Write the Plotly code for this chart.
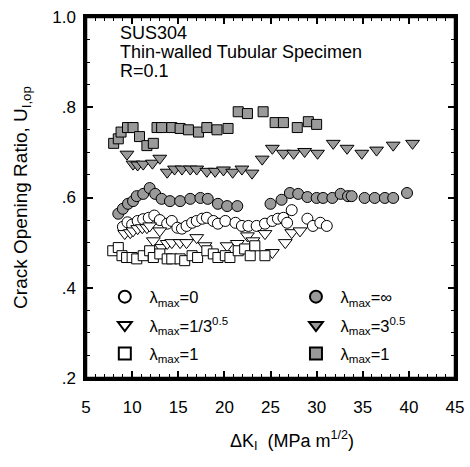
import plotly.graph_objects as go

# lambda_max = 0 (open circles)
k_circle_open = [9.0, 9.5, 10.0, 10.6, 11.2, 11.8, 12.4, 13.0, 13.8, 14.3, 14.9, 15.4, 15.9, 16.5, 17.0, 17.6, 18.1, 18.8, 19.3, 20.1, 21.2, 21.9, 22.6, 23.5, 24.4, 25.2, 25.8, 26.4, 26.8, 27.3, 29.0, 29.6, 30.4, 31.1]
u_circle_open = [0.535, 0.545, 0.540, 0.548, 0.552, 0.555, 0.560, 0.550, 0.542, 0.548, 0.533, 0.531, 0.537, 0.544, 0.548, 0.553, 0.555, 0.548, 0.542, 0.548, 0.544, 0.537, 0.537, 0.537, 0.542, 0.548, 0.553, 0.555, 0.544, 0.572, 0.553, 0.537, 0.544, 0.537]

# lambda_max = 1/3^0.5 (open down-triangles)
k_tri_open = [9.2, 9.8, 10.1, 10.6, 11.1, 11.6, 11.9, 12.3, 13.0, 13.2, 13.8, 14.3, 15.2, 15.9, 17.0, 17.9, 20.3, 21.4, 22.5, 23.1, 24.4, 25.2, 26.6, 27.3, 28.2]
u_tri_open = [0.520, 0.522, 0.526, 0.531, 0.533, 0.533, 0.537, 0.504, 0.526, 0.489, 0.498, 0.500, 0.500, 0.500, 0.511, 0.493, 0.493, 0.498, 0.515, 0.504, 0.520, 0.478, 0.500, 0.522, 0.526]

# lambda_max = 1 (open squares)
k_sq_open = [7.9, 8.5, 8.9, 9.4, 10.0, 10.5, 11.2, 11.9, 12.3, 13.0, 13.8, 14.3, 15.2, 15.7, 16.5, 17.1, 18.1, 18.8, 19.3, 20.1, 20.6, 21.5, 22.2, 22.8, 23.3, 24.4]
u_sq_open = [0.482, 0.489, 0.471, 0.467, 0.467, 0.464, 0.471, 0.482, 0.467, 0.475, 0.464, 0.464, 0.464, 0.460, 0.471, 0.467, 0.482, 0.475, 0.467, 0.471, 0.467, 0.482, 0.486, 0.471, 0.493, 0.471]

# lambda_max = infinity (hatched circles)
k_circle_fill = [8.5, 9.0, 9.55, 10.1, 10.5, 11.2, 11.9, 12.5, 13.2, 14.1, 15.2, 16.3, 17.4, 18.2, 19.3, 20.3, 21.4, 25.0, 26.2, 27.1, 28.0, 29.0, 30.0, 30.7, 31.7, 32.6, 33.4, 33.8, 35.2, 36.3, 37.4, 38.3, 39.8]
u_circle_fill = [0.564, 0.575, 0.586, 0.592, 0.603, 0.608, 0.621, 0.608, 0.597, 0.592, 0.592, 0.597, 0.599, 0.597, 0.586, 0.581, 0.581, 0.586, 0.595, 0.610, 0.608, 0.601, 0.599, 0.599, 0.599, 0.608, 0.603, 0.603, 0.599, 0.599, 0.599, 0.599, 0.610]

# lambda_max = 3^0.5 (hatched down-triangles)
k_tri_fill = [9.44, 10.1, 10.6, 11.2, 12.2, 13.0, 13.8, 14.6, 15.4, 16.3, 17.0, 18.1, 19.0, 19.9, 20.9, 21.9, 23.0, 24.1, 25.2, 26.4, 27.5, 28.7, 30.1, 31.8, 33.3, 34.9, 36.5, 38.3, 40.4]
u_tri_fill = [0.696, 0.674, 0.672, 0.674, 0.676, 0.687, 0.656, 0.663, 0.663, 0.663, 0.663, 0.658, 0.658, 0.661, 0.656, 0.663, 0.654, 0.685, 0.709, 0.698, 0.698, 0.702, 0.698, 0.720, 0.709, 0.698, 0.705, 0.716, 0.720]

# lambda_max = 1 (hatched squares)
k_sq_fill = [8.0, 8.5, 8.8, 9.5, 10.1, 10.8, 11.6, 12.3, 12.7, 13.2, 14.3, 15.2, 16.1, 17.2, 18.1, 19.2, 20.4, 21.5, 22.5, 24.2, 25.5, 26.4, 27.9, 29.1, 30.0]
u_sq_fill = [0.720, 0.730, 0.745, 0.755, 0.755, 0.735, 0.715, 0.720, 0.755, 0.755, 0.755, 0.753, 0.750, 0.745, 0.755, 0.750, 0.753, 0.790, 0.786, 0.790, 0.766, 0.766, 0.755, 0.768, 0.762]

y_tick_vals = [0.2, 0.4, 0.6, 0.8, 1.0]
y_tick_text = [".2", ".4", ".6", ".8", "1.0"]
x_tick_vals = [5, 10, 15, 20, 25, 30, 35, 40, 45]
header_lines = ["SUS304", "Thin-walled Tubular Specimen", "R=0.1"]

FONT = "Liberation Sans, Arial, sans-serif"
HATCH = "#9a9a9a"

series = [
    (k_circle_open, u_circle_open, "circle", "white", 11, " λ<sub>max</sub>=0", "legend"),
    (k_tri_open, u_tri_open, "triangle-down", "white", 12, " λ<sub>max</sub>=1/3<sup>0.5</sup>", "legend"),
    (k_sq_open, u_sq_open, "square", "white", 10, " λ<sub>max</sub>=1", "legend"),
    (k_circle_fill, u_circle_fill, "circle", HATCH, 11, " λ<sub>max</sub>=∞", "legend2"),
    (k_tri_fill, u_tri_fill, "triangle-down", HATCH, 12, " λ<sub>max</sub>=3<sup>0.5</sup>", "legend2"),
    (k_sq_fill, u_sq_fill, "square", HATCH, 10, " λ<sub>max</sub>=1", "legend2"),
]

fig = go.Figure()
for i, (xs, ys, sym, fill, size, name, leg) in enumerate(series):
    fig.add_trace(go.Scatter(
        x=xs, y=ys, mode="markers", name=name, legend=leg,
        legendgroup=f"g{i}",
        marker=dict(symbol=sym, size=size, color=fill,
                    line=dict(color="black", width=1)),
    ))

axis_common = dict(
    showline=True, linecolor="black", linewidth=2.5, mirror="ticks",
    ticks="inside", ticklen=7, tickwidth=1.5, tickcolor="black",
    showgrid=False, zeroline=False, automargin=False,
    tickfont=dict(family=FONT, size=17, color="black"),
)

fig.update_xaxes(
    range=[5, 45], tickvals=x_tick_vals, ticklabelstandoff=12,
    minor=dict(dtick=1, ticks="inside", ticklen=4, tickwidth=1.2, tickcolor="black"),
    **axis_common,
)
fig.update_yaxes(
    range=[0.2, 1.0], tickvals=y_tick_vals, ticktext=y_tick_text,
    ticklabelstandoff=4,
    minor=dict(dtick=0.05, ticks="inside", ticklen=4, tickwidth=1.2, tickcolor="black"),
    title=dict(text="Crack Opening Ratio, U<sub>I,op</sub>",
               font=dict(family=FONT, size=19, color="black"), standoff=20),
    **axis_common,
)

# plot frame
fig.add_shape(type="rect", xref="paper", yref="paper", x0=0, x1=1, y0=0, y1=1,
              line=dict(color="#000000", width=2.5), fillcolor="rgba(0,0,0,0)",
              layer="above")

# x-axis title (placed as text, slightly right of centre as in the original)
fig.add_annotation(
    xref="paper", yref="paper", x=0.385, y=-0.172,
    xanchor="left", yanchor="middle", showarrow=False,
    text="ΔK<sub>I</sub>  (MPa m<sup>1/2</sup>)",
    font=dict(family=FONT, size=18, color="black"),
)

header_y = [0.956, 0.903, 0.850]
for txt, yy in zip(header_lines, header_y):
    fig.add_annotation(
        xref="paper", yref="paper", x=0.087, y=yy,
        xanchor="left", yanchor="middle", showarrow=False, text=txt,
        font=dict(family=FONT, size=18, color="black"),
    )

legend_common = dict(
    orientation="v", yanchor="top", xanchor="left", xref="paper", yref="paper",
    bgcolor="rgba(0,0,0,0)", borderwidth=0, tracegroupgap=4,
    font=dict(family=FONT, size=16.5, color="black"),
    itemsizing="constant",
)

fig.update_layout(
    width=470, height=467,
    margin=dict(l=86, r=15, t=17, b=89, autoexpand=False),
    paper_bgcolor="white", plot_bgcolor="white",
    showlegend=True,
    legend=dict(x=0.051, y=0.273, **legend_common),
    legend2=dict(x=0.569, y=0.273, **legend_common),
)

fig.write_html("out.html", config={"displayModeBar": False},
               post_script="document.body.style.margin='0px';")
